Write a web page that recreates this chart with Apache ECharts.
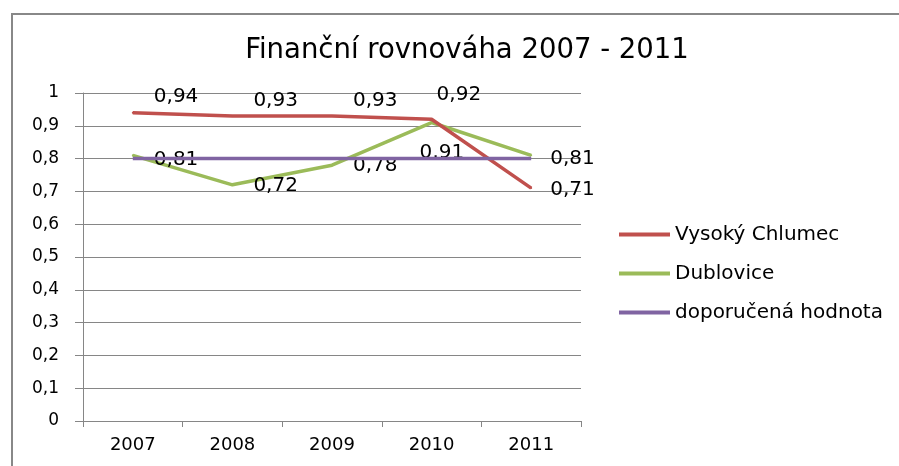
<!DOCTYPE html>
<html>
<head>
<meta charset="utf-8">
<script src="https://cdn.jsdelivr.net/npm/echarts@6/dist/echarts.min.js"></script>
<style>
  html, body { margin: 0; padding: 0; background: #fff; }
  #main { width: 899px; height: 466px; }
</style>
</head>
<body>
<div id="main"></div>
<script>
// data
var years = ['2007', '2008', '2009', '2010', '2011'];
var vysokyChlumec = [0.94, 0.93, 0.93, 0.92, 0.71];
var dublovice = [0.81, 0.72, 0.78, 0.91, 0.81];
var doporucena = [0.8, 0.8, 0.8, 0.8, 0.8];

// where each data label sits, relative to the point (style only)
var redLabelShift = [[15, -16], [15, -15], [15, -15], [-1, -24], [13, 2]];
var greenLabelShift = [[15, 4], [15, 1], [15, 1], [-18, 30], [13, 3]];

var FONT = 'DejaVu Sans';

function withLabels(values, shifts) {
  return values.map(function (v, i) {
    return { value: v, label: { offset: shifts[i] } };
  });
}

function comma(v) {
  return String(v).replace('.', ',');
}

var chart = echarts.init(document.getElementById('main'));

var option = {
  backgroundColor: '#fff',
  animation: false,
  title: {
    text: 'Finanční rovnováha 2007 - 2011',
    left: 462,
    top: 32,
    textAlign: 'center',
    textStyle: { fontFamily: FONT, fontSize: 27.5, fontWeight: 'normal', color: '#000' }
  },
  graphic: [{
    type: 'rect',
    shape: { x: 12, y: 14, width: 910, height: 470 },
    style: { fill: 'none', stroke: '#888', lineWidth: 2 },
    silent: true
  }],
  legend: {
    orient: 'vertical',
    left: 619,
    top: 224,
    padding: 0,
    itemWidth: 51,
    itemHeight: 4,
    itemGap: 18,
    icon: 'rect',
    textStyle: { fontFamily: FONT, fontSize: 20, color: '#000', lineHeight: 21 },
    data: ['Vysoký Chlumec', 'Dublovice', 'doporučená hodnota']
  },
  grid: { left: 83, right: 318, top: 93, bottom: 45 },
  xAxis: {
    type: 'category',
    data: years,
    boundaryGap: true,
    axisLine: { lineStyle: { color: '#868686', width: 1 } },
    axisTick: { show: true, length: 6, lineStyle: { color: '#868686' } },
    axisLabel: { margin: 15, fontFamily: FONT, fontSize: 18, color: '#000' }
  },
  yAxis: {
    type: 'value',
    min: 0,
    max: 1,
    interval: 0.1,
    axisLine: { show: true, lineStyle: { color: '#868686', width: 1 } },
    axisTick: { show: true, length: 8, lineStyle: { color: '#868686' } },
    splitLine: { lineStyle: { color: '#868686', width: 1 } },
    axisLabel: {
      margin: 24,
      fontFamily: FONT,
      fontSize: 17,
      color: '#000',
      formatter: function (v) { return comma(Math.round(v * 10) / 10); }
    }
  },
  series: [
    {
      name: 'Vysoký Chlumec',
      type: 'line',
      data: withLabels(vysokyChlumec, redLabelShift),
      symbol: 'circle',
      symbolSize: 2,
      color: '#C0504D',
      lineStyle: { width: 3.5, color: '#C0504D' },
      label: {
        show: true,
        position: 'right',
        fontFamily: FONT,
        fontSize: 20,
        color: '#000',
        formatter: function (p) { return comma(p.value); }
      },
      z: 3
    },
    {
      name: 'Dublovice',
      type: 'line',
      data: withLabels(dublovice, greenLabelShift),
      symbol: 'circle',
      symbolSize: 2,
      color: '#9BBB59',
      lineStyle: { width: 3.5, color: '#9BBB59' },
      label: {
        show: true,
        position: 'right',
        fontFamily: FONT,
        fontSize: 20,
        color: '#000',
        formatter: function (p) { return comma(p.value); }
      },
      z: 2
    },
    {
      name: 'doporučená hodnota',
      type: 'line',
      data: doporucena,
      symbol: 'none',
      color: '#8064A2',
      lineStyle: { width: 3.5, color: '#8064A2' },
      z: 4
    }
  ]
};

chart.setOption(option);
window.onresize = chart.resize;
</script>
</body>
</html>
